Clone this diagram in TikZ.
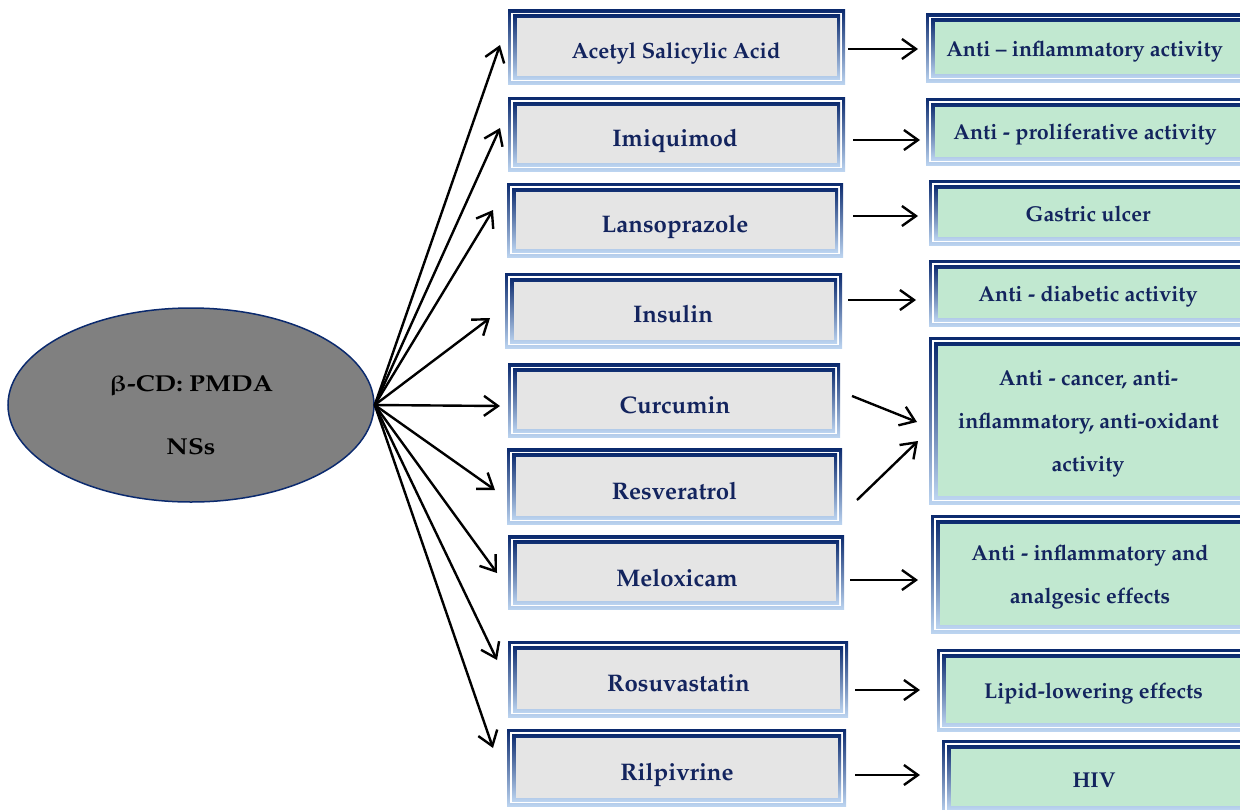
\documentclass[tikz,border=0pt]{standalone}
\usepackage[T1]{fontenc}
\usepackage{amsmath}
\usepackage{mathpazo}
\usepackage{upgreek}
\usepackage{graphicx}
\usetikzlibrary{arrows.meta,shapes.geometric}
\definecolor{navy}{HTML}{0B2A6E}
\definecolor{lightb}{HTML}{BCD4F0}
\definecolor{grayfill}{HTML}{E5E5E5}
\definecolor{greenfill}{HTML}{C1E8D0}
\definecolor{txt}{HTML}{13245E}
\definecolor{ellfill}{HTML}{808080}
\begin{document}
\begin{tikzpicture}[x=1pt,y=-1pt,
  boxfill/.store in=\boxfillcolor, boxfill=grayfill,
  framed/.style 2 args={rectangle, minimum width=#1, minimum height=#2, inner sep=0pt,
    top color=navy, bottom color=lightb, draw=none,
    path picture={
      \fill[white] ([shift={(3.3pt,-3.3pt)}]path picture bounding box.north west) rectangle ([shift={(-3.3pt,3.3pt)}]path picture bounding box.south east);
      \shade[top color=navy, bottom color=lightb] ([shift={(5pt,-5pt)}]path picture bounding box.north west) rectangle ([shift={(-5pt,5pt)}]path picture bounding box.south east);
      \fill[\boxfillcolor] ([shift={(8.5pt,-8.5pt)}]path picture bounding box.north west) rectangle ([shift={(-8.5pt,8.5pt)}]path picture bounding box.south east);
    }},
  drug/.style 2 args={framed={#1}{#2}, boxfill=grayfill},
  effect/.style 2 args={framed={#1}{#2}, boxfill=greenfill},
  dtxt/.style={anchor=base, inner sep=0pt, text=txt, font=\fontsize{24}{29}\selectfont\bfseries},
  etxt/.style={anchor=base, inner sep=0pt, text=txt, font=\fontsize{21.5}{26}\selectfont\bfseries},
  eltxt/.style={anchor=base, inner sep=0pt, text=black, font=\fontsize{23}{28}\selectfont\bfseries},
  arr/.style={draw=black, line width=2.4pt, -{Straight Barb[length=14pt,width=20pt,line width=2.4pt]}}
]
\useasboundingbox (0,0) rectangle (1240,809);
\begin{scope}
\clip (0,0) rectangle (1240,809);
% ellipse
\node[ellipse, draw=navy, line width=1.5pt, fill=ellfill, minimum width=366pt, minimum height=194pt, inner sep=0pt] (el) at (191,405) {};
\node[eltxt] (elt1) at (191,391) {\scalebox{1.13}[1]{$\boldsymbol{\upbeta}$-CD: PMDA}};
\node[eltxt] (elt2) at (191,454.5) {\scalebox{1.13}[1]{NSs}};

% drug boxes
\node[drug={337pt}{75pt}] (d1) at (676.5,47) {};
\node[drug={337pt}{74pt}] (d2) at (676.5,134) {};
\node[drug={336pt}{74pt}] (d3) at (675,220) {};
\node[drug={337pt}{75pt}] (d4) at (673.5,310.5) {};
\node[drug={332pt}{74pt}] (d5) at (674,400.5) {};
\node[drug={335pt}{76pt}] (d6) at (674.5,486.5) {};
\node[drug={336pt}{74pt}] (d7) at (676,572.5) {};
\node[drug={340pt}{76pt}] (d8) at (678,679) {};
\node[drug={339pt}{77pt}] (d9) at (676.5,767.5) {};

\node[dtxt, font=\fontsize{22}{26}\selectfont\bfseries] (d1t) at (676,58) {Acetyl Salicylic Acid};
\node[dtxt] (d2t) at (675,146.7) {Imiquimod};
\node[dtxt] (d3t) at (675,232.3) {Lansoprazole};
\node[dtxt] (d4t) at (673,322.3) {Insulin};
\node[dtxt] (d5t) at (675,413.3) {Curcumin};
\node[dtxt] (d6t) at (674.5,499.3) {Resveratrol};
\node[dtxt] (d7t) at (677,586.3) {Meloxicam};
\node[dtxt] (d8t) at (678.5,691.3) {Rosuvastatin};
\node[dtxt] (d9t) at (677,780) {Rilpivrine};

% effect boxes (extend beyond right edge)
\node[effect={334pt}{69pt}] (e1) at (1093,48) {};
\node[effect={334pt}{67pt}] (e2) at (1093,131.5) {};
\node[effect={331pt}{65pt}] (e3) at (1094.5,212.5) {};
\node[effect={331pt}{66pt}] (e4) at (1094.5,293) {};
\node[effect={331pt}{167pt}] (e5) at (1094.5,420.5) {};
\node[effect={329pt}{118pt}] (e6) at (1095.5,574) {};
\node[effect={323pt}{82pt}] (e7) at (1098.5,690) {};
\node[effect={318pt}{74pt}] (e8) at (1101,777) {};

\node[etxt] (e1t) at (1084.5,56.7) {Anti -- inflammatory activity};
\node[etxt] (e2t) at (1085,139.4) {Anti - proliferative activity};
\node[etxt] (e3t) at (1088,221.4) {Gastric ulcer};
\node[etxt] (e4t) at (1088,301.4) {Anti - diabetic activity};
\node[etxt] (e5t1) at (1088.5,385) {Anti - cancer, anti-};
\node[etxt] (e5t2) at (1088.5,428.5) {inflammatory, anti-oxidant};
\node[etxt] (e5t3) at (1088,471.7) {activity};
\node[etxt] (e6t1) at (1090,560.7) {Anti - inflammatory and};
\node[etxt] (e6t2) at (1090,603.3) {analgesic effects};
\node[etxt] (e7t) at (1093.5,698.3) {Lipid-lowering effects};
\node[etxt] (e8t) at (1094,787.7) {HIV};
\end{scope}

% arrows from ellipse
\coordinate (t1) at (500,45);
\coordinate (t2) at (500,128);
\coordinate (t3) at (493,210);
\coordinate (t4) at (490,318);
\coordinate (t5) at (500,406);
\coordinate (t6) at (495,490);
\coordinate (t7) at (497,573);
\coordinate (t8) at (497,660);
\coordinate (t9) at (493,748);
\foreach \i in {1,...,9} \draw[arr] (el.east) -- (t\i);

% arrows to effects
\coordinate (a1) at (848,49);  \coordinate (b1) at (918,49);
\coordinate (a2) at (853,140); \coordinate (b2) at (920,140);
\coordinate (a3) at (853,216); \coordinate (b3) at (918,216);
\coordinate (a4) at (848,300); \coordinate (b4) at (916,300);
\coordinate (a5) at (852,396); \coordinate (b5) at (917,422);
\coordinate (a6) at (857,500); \coordinate (b6) at (918,441);
\coordinate (a7) at (850,580); \coordinate (b7) at (918,580);
\coordinate (a8) at (855,690); \coordinate (b8) at (920,690);
\coordinate (a9) at (855,775); \coordinate (b9) at (920,775);
\foreach \i in {1,...,9} \draw[arr] (a\i) -- (b\i);
\end{tikzpicture}
\end{document}
